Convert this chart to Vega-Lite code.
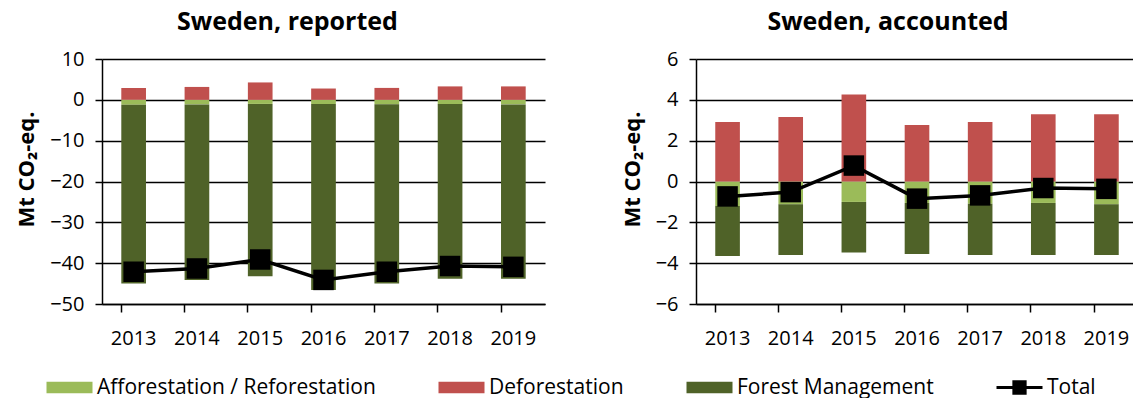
{
  "$schema": "https://vega.github.io/schema/vega-lite/v6.json",
  "background": "white",
  "padding": {"left": 15, "top": 10, "right": 0, "bottom": 0},
  "datasets": {
    "reported": [
      {"year": "2013", "category": "Afforestation / Reforestation", "value": -1.2},
      {"year": "2013", "category": "Deforestation", "value": 2.92},
      {"year": "2013", "category": "Forest Management", "value": -43.75},
      {"year": "2013", "category": "Total", "value": -42.1},
      {"year": "2014", "category": "Afforestation / Reforestation", "value": -1.12},
      {"year": "2014", "category": "Deforestation", "value": 3.16},
      {"year": "2014", "category": "Forest Management", "value": -43.0},
      {"year": "2014", "category": "Total", "value": -41.3},
      {"year": "2015", "category": "Afforestation / Reforestation", "value": -1.0},
      {"year": "2015", "category": "Deforestation", "value": 4.26},
      {"year": "2015", "category": "Forest Management", "value": -42.2},
      {"year": "2015", "category": "Total", "value": -39.1},
      {"year": "2016", "category": "Afforestation / Reforestation", "value": -1.05},
      {"year": "2016", "category": "Deforestation", "value": 2.77},
      {"year": "2016", "category": "Forest Management", "value": -45.55},
      {"year": "2016", "category": "Total", "value": -44.1},
      {"year": "2017", "category": "Afforestation / Reforestation", "value": -1.09},
      {"year": "2017", "category": "Deforestation", "value": 2.92},
      {"year": "2017", "category": "Forest Management", "value": -43.86},
      {"year": "2017", "category": "Total", "value": -42.1},
      {"year": "2018", "category": "Afforestation / Reforestation", "value": -1.05},
      {"year": "2018", "category": "Deforestation", "value": 3.29},
      {"year": "2018", "category": "Forest Management", "value": -42.75},
      {"year": "2018", "category": "Total", "value": -40.7},
      {"year": "2019", "category": "Afforestation / Reforestation", "value": -1.12},
      {"year": "2019", "category": "Deforestation", "value": 3.29},
      {"year": "2019", "category": "Forest Management", "value": -42.7},
      {"year": "2019", "category": "Total", "value": -40.9}
    ],
    "accounted": [
      {"year": "2013", "category": "Afforestation / Reforestation", "value": -1.2},
      {"year": "2013", "category": "Deforestation", "value": 2.92},
      {"year": "2013", "category": "Forest Management", "value": -2.45},
      {"year": "2013", "category": "Total", "value": -0.73},
      {"year": "2014", "category": "Afforestation / Reforestation", "value": -1.12},
      {"year": "2014", "category": "Deforestation", "value": 3.16},
      {"year": "2014", "category": "Forest Management", "value": -2.48},
      {"year": "2014", "category": "Total", "value": -0.52},
      {"year": "2015", "category": "Afforestation / Reforestation", "value": -1.0},
      {"year": "2015", "category": "Deforestation", "value": 4.26},
      {"year": "2015", "category": "Forest Management", "value": -2.48},
      {"year": "2015", "category": "Total", "value": 0.78},
      {"year": "2016", "category": "Afforestation / Reforestation", "value": -1.05},
      {"year": "2016", "category": "Deforestation", "value": 2.77},
      {"year": "2016", "category": "Forest Management", "value": -2.5},
      {"year": "2016", "category": "Total", "value": -0.84},
      {"year": "2017", "category": "Afforestation / Reforestation", "value": -1.09},
      {"year": "2017", "category": "Deforestation", "value": 2.92},
      {"year": "2017", "category": "Forest Management", "value": -2.51},
      {"year": "2017", "category": "Total", "value": -0.68},
      {"year": "2018", "category": "Afforestation / Reforestation", "value": -1.05},
      {"year": "2018", "category": "Deforestation", "value": 3.29},
      {"year": "2018", "category": "Forest Management", "value": -2.55},
      {"year": "2018", "category": "Total", "value": -0.32},
      {"year": "2019", "category": "Afforestation / Reforestation", "value": -1.12},
      {"year": "2019", "category": "Deforestation", "value": 3.29},
      {"year": "2019", "category": "Forest Management", "value": -2.48},
      {"year": "2019", "category": "Total", "value": -0.36}
    ]
  },
  "hconcat": [
    {
      "title": {"text": "Sweden, reported", "dx": -36},
      "width": 443,
      "height": 245,
      "data": {"name": "reported"},
      "layer": [
        {
          "transform": [{"filter": "datum.category !== 'Total'"}],
          "mark": {"type": "bar"},
          "encoding": {
            "x": {"field": "year", "type": "nominal", "scale": {"paddingInner": 0.61, "paddingOuter": 0.305}},
            "y": {"field": "value", "type": "quantitative", "stack": "zero", "scale": {"domain": [-50, 10], "nice": false}, "axis": {"values": [-50, -40, -30, -20, -10, 0, 10], "title": "Mt CO₂-eq."}},
            "color": {
              "field": "category", "type": "nominal",
              "scale": {"domain": ["Afforestation / Reforestation", "Deforestation", "Forest Management", "Total"], "range": ["#9BBB59", "#C0504D", "#4F6228", "#000000"]},
              "legend": {
                "orient": "none", "legendX": -44, "legendY": 317, "direction": "horizontal", "columns": 4,
                "title": null, "labelFont": "Open Sans", "labelFontSize": 21, "labelColor": "black", "labelLimit": 400,
                "labelOffset": 16, "columnPadding": 62, "symbolSize": 529, "symbolStrokeWidth": 0, "symbolOpacity": 1,
                "symbolType": "M-2,-0.5H2V0.5H-2Z", "gridAlign": "none",
                "encode": {"symbols": {"update": {"shape": {"signal": "datum.value === 'Total' ? 'M-2,-0.14H2V0.14H-2Z M-0.62,-0.62H0.62V0.62H-0.62Z' : 'M-2,-0.5H2V0.5H-2Z'"}}}}
              }
            },
            "order": {"field": "category", "sort": "ascending"}
          }
        },
        {
          "transform": [{"filter": "datum.category === 'Total'"}],
          "mark": {"type": "line", "color": "black", "strokeWidth": 3.5, "point": {"shape": "square", "size": 420, "filled": true, "color": "black", "opacity": 1}},
          "encoding": {
            "x": {"field": "year", "type": "nominal"},
            "y": {"field": "value", "type": "quantitative"}
          }
        }
      ]
    },
    {
      "title": {"text": "Sweden, accounted", "dx": -29},
      "width": 442,
      "height": 245,
      "data": {"name": "accounted"},
      "layer": [
        {
          "transform": [{"filter": "datum.category !== 'Total'"}],
          "mark": {"type": "bar"},
          "encoding": {
            "x": {"field": "year", "type": "nominal", "scale": {"paddingInner": 0.61, "paddingOuter": 0.305}},
            "y": {"field": "value", "type": "quantitative", "stack": "zero", "scale": {"domain": [-6, 6], "nice": false}, "axis": {"values": [-6, -4, -2, 0, 2, 4, 6], "title": "Mt CO₂-eq."}},
            "color": {"field": "category", "type": "nominal"},
            "order": {"field": "category", "sort": "ascending"}
          }
        },
        {
          "transform": [{"filter": "datum.category === 'Total'"}],
          "mark": {"type": "line", "color": "black", "strokeWidth": 3.5, "point": {"shape": "square", "size": 420, "filled": true, "color": "black", "opacity": 1}},
          "encoding": {
            "x": {"field": "year", "type": "nominal"},
            "y": {"field": "value", "type": "quantitative"}
          }
        }
      ]
    }
  ],
  "spacing": 76,
  "resolve": {"scale": {"y": "independent", "color": "shared"}},
  "config": {
    "font": "Open Sans",
    "view": {"stroke": null},
    "bar": {"opacity": 1},
    "title": {"font": "Open Sans", "fontSize": 25, "fontWeight": "bold", "color": "black", "anchor": "middle", "offset": 14},
    "axisX": {
      "title": null, "labelAngle": 0, "labelFont": "Open Sans", "labelFontSize": 20, "labelColor": "black",
      "labelPadding": 16, "tickSize": 8, "tickColor": "black", "tickWidth": 1.5, "domainColor": "black", "domainWidth": 1.5,
      "bandPosition": 0, "grid": false
    },
    "axisY": {
      "titleFont": "Open Sans", "titleFontSize": 22, "titleFontWeight": "bold", "titleColor": "black", "titlePadding": 11, "titleY": 110,
      "labelFont": "Open Sans", "labelFontSize": 20, "labelColor": "black", "labelPadding": 11,
      "tickSize": 7, "tickColor": "black", "tickWidth": 1.5, "domainColor": "black", "domainWidth": 1.5,
      "grid": true, "gridColor": "black", "gridWidth": 1.5, "gridOpacity": 1
    }
  }
}
